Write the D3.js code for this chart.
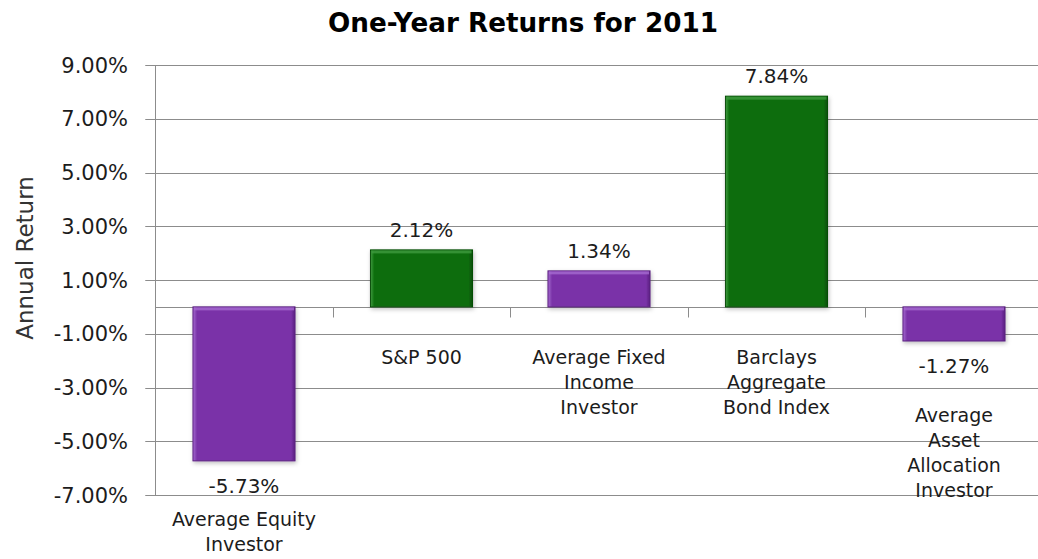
<!DOCTYPE html>
<html><head><meta charset="utf-8">
<script src="https://cdn.jsdelivr.net/npm/d3@7"></script>
<style>
html,body{margin:0;padding:0;background:#fff;overflow:hidden}
text{font-family:"DejaVu Sans",Verdana,sans-serif;fill:#1c1c1c}
</style></head><body>
<svg id="chart" width="1038" height="559"></svg>
<script>
const categories = [
  ["Average Equity","Investor"],
  ["S&P 500"],
  ["Average Fixed","Income","Investor"],
  ["Barclays","Aggregate","Bond Index"],
  ["Average","Asset","Allocation","Investor"]
];
const values = [-5.73, 2.12, 1.34, 7.84, -1.27];
const seriesType = ["investor","index","investor","index","investor"];
const yTicks = [9, 7, 5, 3, 1, -1, -3, -5, -7];
const titleText = "One-Year Returns for 2011";
const yTitle = "Annual Return";

const svg = d3.select("#chart");
const W = 1038, H = 559;
const plot = {left:155.25, right:1042.75, top:65, bottom:495};
const pct = d => d3.format(".2f")(d).replace("\u2212","-") + "%";

const x = d3.scaleBand().domain(d3.range(values.length))
  .range([plot.left, plot.right]).paddingInner(0.425).paddingOuter(0.2125);
const y = d3.scaleLinear().domain([-7, 9]).range([plot.bottom, plot.top]);

const colors = {
  investor:{main:"#7a33a8", light:"#a56ad0", dark:"#5a2180"},
  index:{main:"#0b6d0b", light:"#3f9a3f", dark:"#074d07"}
};

const defs = svg.append("defs");
const f = defs.append("filter").attr("id","sh").attr("x","-10%").attr("y","-10%").attr("width","130%").attr("height","130%");
f.append("feDropShadow").attr("dx",1).attr("dy",2).attr("stdDeviation",2).attr("flood-color","#000").attr("flood-opacity",0.25);
Object.entries(colors).forEach(([k,c])=>{
  const g = defs.append("linearGradient").attr("id","side-"+k).attr("x1",0).attr("x2",1).attr("y1",0).attr("y2",0);
  g.append("stop").attr("offset","0%").attr("stop-color",c.light);
  g.append("stop").attr("offset","4%").attr("stop-color",c.main);
  g.append("stop").attr("offset","96%").attr("stop-color",c.main);
  g.append("stop").attr("offset","100%").attr("stop-color",c.dark);
});

// gridlines
svg.append("g").selectAll("line").data(yTicks).join("line")
  .attr("x1", plot.left-10).attr("x2", plot.right)
  .attr("y1", d=>Math.round(y(d))+0.5).attr("y2", d=>Math.round(y(d))+0.5)
  .attr("stroke","#8c8c8c").attr("stroke-width",1);

// y axis line
svg.append("line").attr("x1",Math.round(plot.left)+0.5).attr("x2",Math.round(plot.left)+0.5)
  .attr("y1",y(9)).attr("y2",y(-7)).attr("stroke","#8c8c8c");

// zero axis line + category tick marks
const y0 = Math.round(y(0))+0.5;
svg.append("line").attr("x1",plot.left).attr("x2",plot.right).attr("y1",y0).attr("y2",y0).attr("stroke","#8c8c8c");
const bounds = d3.range(1, values.length).map(i => x(i) - x.step()*x.paddingInner()/2);
svg.append("g").selectAll("line").data(bounds).join("line")
  .attr("x1",d=>Math.round(d)+0.5).attr("x2",d=>Math.round(d)+0.5)
  .attr("y1",y0).attr("y2",y0+10).attr("stroke","#8c8c8c");

// y tick labels
svg.append("g").selectAll("text").data(yTicks).join("text")
  .attr("x",128).attr("y",d=>y(d)).attr("dy","0.36em")
  .attr("text-anchor","end").attr("font-size",21)
  .text(pct);

// y title
svg.append("text").attr("transform",`translate(33,258) rotate(-90)`)
  .attr("text-anchor","middle").attr("font-size",23).style("fill","#333").text(yTitle);

// bars
const bars = svg.append("g").selectAll("g").data(values).join("g");
bars.append("rect")
  .attr("x",(d,i)=>x(i)).attr("width",x.bandwidth())
  .attr("y",d=>y(Math.max(0,d))).attr("height",d=>Math.abs(y(d)-y(0)))
  .attr("fill",(d,i)=>`url(#side-${seriesType[i]})`)
  .attr("stroke",(d,i)=>colors[seriesType[i]].dark).attr("stroke-width",1)
  .attr("filter","url(#sh)");
bars.append("rect")
  .attr("x",(d,i)=>x(i)+1).attr("width",x.bandwidth()-2)
  .attr("y",d=>y(Math.max(0,d))+0.5).attr("height",3)
  .attr("fill",(d,i)=>colors[seriesType[i]].light).attr("opacity",0.8);

// value labels
svg.append("g").selectAll("text").data(values).join("text")
  .attr("x",(d,i)=>x(i)+x.bandwidth()/2)
  .attr("y",d=> d>=0 ? y(d)-20 : y(d)+25).attr("dy","0.36em")
  .attr("text-anchor","middle").attr("font-size",20)
  .text(pct);

// category labels
const lineH = 25;
const cl = svg.append("g").selectAll("text").data(categories).join("text")
  .attr("text-anchor","middle").attr("font-size",19)
  .attr("transform",(d,i)=>{
    const v = values[i];
    const cy = v>=0 ? y(0)+50 : Math.min(y(v)+74, H-15-(d.length-1)*lineH);
    return `translate(${x(i)+x.bandwidth()/2},${cy})`;
  });
cl.selectAll("tspan").data(d=>d).join("tspan")
  .attr("x",0).attr("y",(d,j)=>j*lineH).attr("dy","0.36em").text(d=>d);

// title
const t = svg.append("text").attr("x",523).attr("y",23).attr("dy","0.36em")
  .attr("text-anchor","middle").attr("font-weight","bold").attr("font-size",24).style("fill","#000").text(titleText);
const len = t.node().getComputedTextLength();
t.attr("font-size", 24*390/len);
</script>
</body></html>
